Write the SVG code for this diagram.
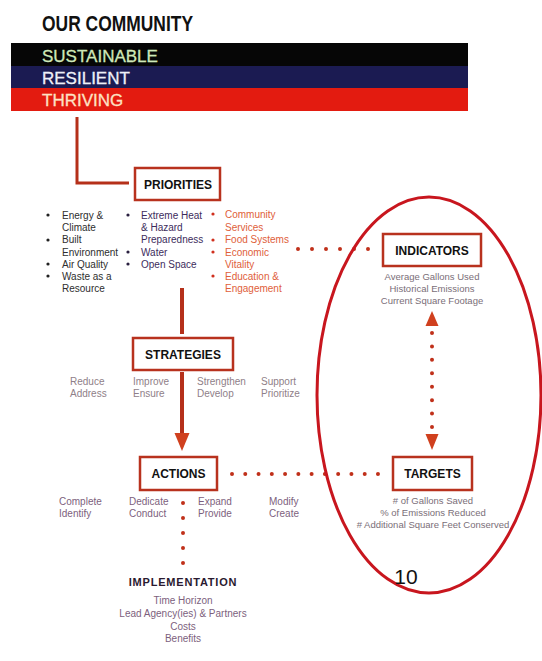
<svg xmlns="http://www.w3.org/2000/svg" width="542" height="661" viewBox="0 0 542 661">
<style>
text{font-family:"Liberation Sans",Arial,sans-serif}
.box{fill:#fff;stroke:#b8321e;stroke-width:2.5}
.bt{font-size:12px;font-weight:bold;fill:#111;text-anchor:middle}
.p1{font-size:10px;fill:#2e2e2e}
.p2{font-size:10px;fill:#3d2c5c}
.p3{font-size:10px;fill:#e0603a}
.g{font-size:9.5px;fill:#7a6e78}
.s{font-size:10px;fill:#8f8088}
.a{font-size:10px;fill:#7d5f7d}
.mid{text-anchor:middle}
.dots{stroke:#c0301a;stroke-width:4;stroke-linecap:round;fill:none}
.solid{stroke:#b5301a;fill:none}
.head{fill:#d0401e}
</style>
<rect width="542" height="661" fill="#fff"/>
<g id="header">
<text x="42" y="31" font-size="22" font-weight="bold" fill="#111" textLength="151" lengthAdjust="spacingAndGlyphs">OUR COMMUNITY</text>
<rect x="11" y="43" width="457" height="23" fill="#060606"/>
<rect x="11" y="66" width="457" height="22" fill="#1b1b52"/>
<rect x="11" y="88" width="457" height="23" fill="#e31b10"/>
<text x="42" y="62" font-size="17" fill="#cfe8b8" stroke="#cfe8b8" stroke-width="0.3">SUSTAINABLE</text>
<text x="42" y="84" font-size="17" fill="#eef0f8" stroke="#eef0f8" stroke-width="0.3">RESILIENT</text>
<text x="42" y="106" font-size="17" fill="#fde2c4" stroke="#fde2c4" stroke-width="0.3">THRIVING</text>
</g>
<g id="connectors">
<path class="solid" stroke-width="3" d="M77,117 V183 H129"/>
<line class="solid" stroke-width="4" x1="182" y1="288" x2="182" y2="334"/>
<line class="solid" stroke-width="4" x1="182" y1="372" x2="182" y2="436"/>
<polygon class="head" points="174.5,433 189.5,433 182,451"/>
<line class="dots" x1="298" y1="249" x2="369" y2="249" stroke-dasharray="0 14"/>
<line class="dots" x1="232" y1="474" x2="379" y2="474" stroke-dasharray="0 13.27"/>
<line class="dots" x1="432" y1="333" x2="432" y2="428" stroke-dasharray="0 13.43"/>
<polygon class="head" points="432,311 425.5,326 438.5,326"/>
<polygon class="head" points="432,450 425.5,434 438.5,434"/>
<line class="dots" x1="183" y1="503" x2="183" y2="564" stroke-dasharray="0 15"/>
</g>
<g id="priorities">
<rect class="box" x="135" y="168" width="85" height="32"/>
<text class="bt" x="178" y="189">PRIORITIES</text>
<g fill="#222"><circle cx="48" cy="215" r="1.6"/><circle cx="48" cy="240" r="1.6"/><circle cx="48" cy="264" r="1.6"/><circle cx="48" cy="276" r="1.6"/></g>
<text class="p1" x="62" y="219">Energy &amp;</text>
<text class="p1" x="62" y="231">Climate</text>
<text class="p1" x="62" y="243">Built</text>
<text class="p1" x="62" y="256">Environment</text>
<text class="p1" x="62" y="268">Air Quality</text>
<text class="p1" x="62" y="280">Waste as a</text>
<text class="p1" x="62" y="292">Resource</text>
<g fill="#2a2040"><circle cx="128" cy="215" r="1.6"/><circle cx="128" cy="252" r="1.6"/><circle cx="128" cy="264" r="1.6"/></g>
<text class="p2" x="141" y="219">Extreme Heat</text>
<text class="p2" x="141" y="231">&amp; Hazard</text>
<text class="p2" x="141" y="243">Preparedness</text>
<text class="p2" x="141" y="256">Water</text>
<text class="p2" x="141" y="268">Open Space</text>
<g fill="#d0301e"><circle cx="213" cy="214" r="1.6"/><circle cx="213" cy="240" r="1.6"/><circle cx="213" cy="252" r="1.6"/><circle cx="213" cy="276" r="1.6"/></g>
<text class="p3" x="225" y="218">Community</text>
<text class="p3" x="225" y="231">Services</text>
<text class="p3" x="225" y="243">Food Systems</text>
<text class="p3" x="225" y="256">Economic</text>
<text class="p3" x="225" y="268">Vitality</text>
<text class="p3" x="225" y="280">Education &amp;</text>
<text class="p3" x="225" y="292">Engagement</text>
</g>
<g id="indicators">
<rect class="box" x="383" y="234" width="98" height="32"/>
<text class="bt" x="432" y="255">INDICATORS</text>
<text class="g mid" x="432" y="280">Average Gallons Used</text>
<text class="g mid" x="432" y="292">Historical Emissions</text>
<text class="g mid" x="432" y="304">Current Square Footage</text>
</g>
<g id="strategies">
<rect class="box" x="133" y="338" width="100" height="32"/>
<text class="bt" x="183" y="359">STRATEGIES</text>
<text class="s" x="70" y="385">Reduce</text>
<text class="s" x="70" y="397">Address</text>
<text class="s" x="133" y="385">Improve</text>
<text class="s" x="133" y="397">Ensure</text>
<text class="s" x="197" y="385">Strengthen</text>
<text class="s" x="197" y="397">Develop</text>
<text class="s" x="261" y="385">Support</text>
<text class="s" x="261" y="397">Prioritize</text>
</g>
<g id="actions">
<rect class="box" x="140" y="457" width="77" height="33"/>
<text class="bt" x="178.5" y="478">ACTIONS</text>
<text class="a" x="59" y="505">Complete</text>
<text class="a" x="59" y="517">Identify</text>
<text class="a" x="129" y="505">Dedicate</text>
<text class="a" x="129" y="517">Conduct</text>
<text class="a" x="198" y="505">Expand</text>
<text class="a" x="198" y="517">Provide</text>
<text class="a" x="269" y="505">Modify</text>
<text class="a" x="269" y="517">Create</text>
</g>
<g id="targets">
<rect class="box" x="393" y="457" width="79" height="33"/>
<text class="bt" x="432.5" y="478">TARGETS</text>
<text class="g mid" x="433" y="504">&#35; of Gallons Saved</text>
<text class="g mid" x="433" y="516">% of Emissions Reduced</text>
<text class="g mid" x="433" y="528">&#35; Additional Square Feet Conserved</text>
</g>
<g id="implementation">
<text x="183" y="586" font-size="11" font-weight="bold" fill="#2a1a30" text-anchor="middle" letter-spacing="0.8">IMPLEMENTATION</text>
<text class="a mid" x="183" y="604">Time Horizon</text>
<text class="a mid" x="183" y="617">Lead Agency(ies) &amp; Partners</text>
<text class="a mid" x="183" y="630">Costs</text>
<text class="a mid" x="183" y="642">Benefits</text>
</g>
<g id="focus">
<ellipse cx="429" cy="395" rx="112" ry="198" fill="none" stroke="#c8161e" stroke-width="3"/>
<text x="406" y="584" font-size="21" fill="#111" text-anchor="middle">10</text>
</g>
</svg>
